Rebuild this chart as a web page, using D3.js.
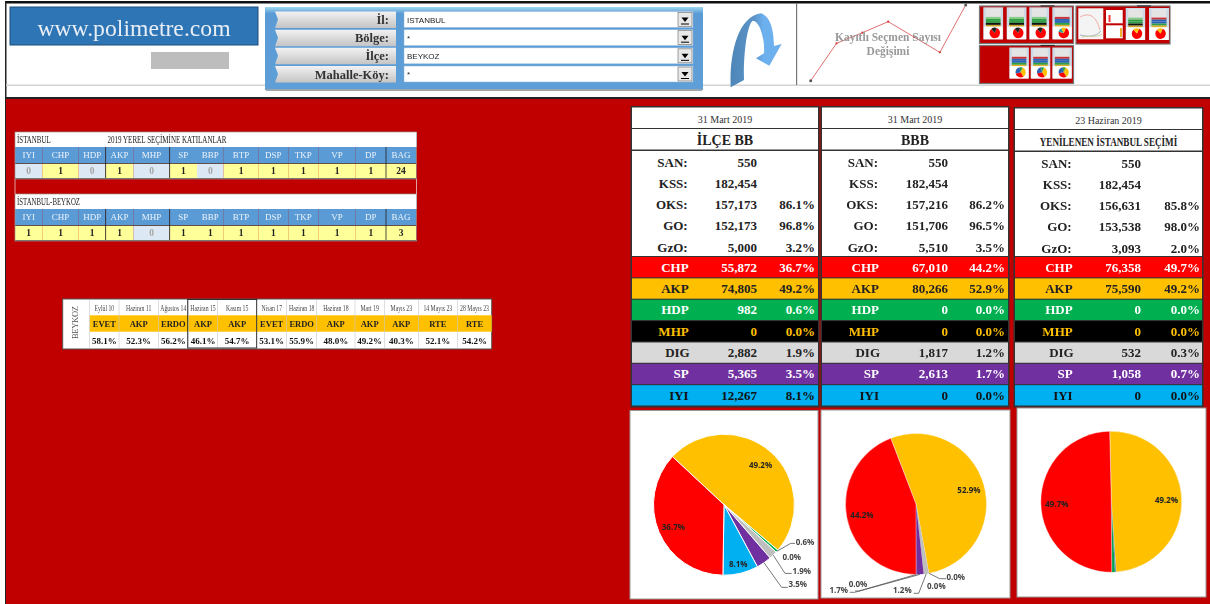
<!DOCTYPE html>
<html>
<head>
<meta charset="utf-8">
<script src="https://cdnjs.cloudflare.com/ajax/libs/d3/7.8.5/d3.min.js"></script>
<style>
html,body{margin:0;padding:0;background:#fff;overflow:hidden}
svg{display:block;filter:blur(0.45px)}
text{font-family:"Liberation Serif",serif}
</style>
</head>
<body>
<svg id="chart" width="1210" height="604"></svg>
<script>
// selector panel
const selectLabels=['İl:','Bölge:','İlçe:','Mahalle-Köy:'];
const selectValues=['ISTANBUL','*','BEYKOZ','*'];

// registered voters mini line (values estimated, no unit shown)
const trendValues=[15,127,159,192,146,100,242];

// who took part in the 2019 local election
const entryParties=['IYI','CHP','HDP','AKP','MHP','SP','BBP','BTP','DSP','TKP','VP','DP','BAG'];
const entryCity=[0,1,0,1,0,1,0,1,1,1,1,1,24];
const entryDistrict=[1,1,1,1,0,1,1,1,1,1,1,1,3];

// past results of the district
const historyDates=['Eylül 10','Haziran 11','Ağustos 14','Haziran 15','Kasım 15','Nisan 17','Haziran 18','Haziran 18','Mart 19','Mayıs 23','14 Mayıs 23','28 Mayıs 23'];
const historyWinners=['EVET','AKP','ERDO','AKP','AKP','EVET','ERDO','AKP','AKP','AKP','RTE','RTE'];
const historyShares=[58.1,52.3,56.2,46.1,54.7,53.1,55.9,48.0,49.2,40.3,52.1,54.2];

// the three result panels
const panelDates=['31 Mart 2019','31 Mart 2019','23 Haziran 2019'];
const panelTitles=['İLÇE BB','BBB','YENİLENEN İSTANBUL SEÇİMİ'];
const infoLabels=['SAN:','KSS:','OKS:','GO:','GzO:'];
const infoCounts=[[550,182454,157173,152173,5000],[550,182454,157216,151706,5510],[550,182454,156631,153538,3093]];
const infoPcts=[[null,null,86.1,96.8,3.2],[null,null,86.2,96.5,3.5],[null,null,85.8,98.0,2.0]];
const parties=['CHP','AKP','HDP','MHP','DIG','SP','IYI'];
const partyVotes=[[55872,74805,982,0,2882,5365,12267],[67010,80266,0,0,1817,2613,0],[76358,75590,0,0,532,1058,0]];
const partyShares=[[36.7,49.2,0.6,0,1.9,3.5,8.1],[44.2,52.9,0,0,1.2,1.7,0],[49.7,49.2,0,0,0.3,0.7,0]];
const pieOrder=['AKP','HDP','MHP','DIG','SP','IYI','CHP'];

// thumbnails, slices as rough shares
const thumbRed=[82,18];
const thumbRedB=[72,14,14];
const thumbMixed=[35,30,25,10];

const fill={CHP:'#ff0000',AKP:'#ffc000',HDP:'#00b050',MHP:'#000',DIG:'#d9d9d9',SP:'#7030a0',IYI:'#00b0f0'};
const ink={CHP:'#fff',AKP:'#222',HDP:'#fff',MHP:'#ffc000',DIG:'#222',SP:'#fff',IYI:'#111'};
const sliceFill=[
	{...fill,DIG:'#bfbfbf'},
	{...fill,DIG:'#bfbfbf'},
	{...fill,DIG:'#7c98a6',SP:'#00a050'}
];

const svg=d3.select('#chart');
const fmt=d3.format(',');
const pct=d=>d3.format('.1f')(d)+'%';

// ---- page frame
svg.append('rect').attr('x',5).attr('y',1).attr('width',1205).attr('height',2.5).attr('fill','#111');
svg.append('rect').attr('x',5).attr('y',1).attr('width',1.5).attr('height',603).attr('fill','#222');
svg.append('rect').attr('x',6).attr('y',84.5).attr('width',1204).attr('height',1.5).attr('fill','#d4d4d4');
svg.append('rect').attr('x',6).attr('y',97).attr('width',1204).attr('height',2).attr('fill','#222');
svg.append('rect').attr('x',6).attr('y',99).attr('width',1204).attr('height',505).attr('fill','#c00000');
svg.append('rect').attr('x',796).attr('y',3).attr('width',1.2).attr('height',82).attr('fill','#777');

// ---- logo
svg.append('rect').attr('x',10).attr('y',7).attr('width',248).attr('height',38).attr('fill','#2e75b6').attr('stroke','#1f4e79');
svg.append('text').attr('x',134).attr('y',35.5).attr('text-anchor','middle').attr('fill','#e8eef5').style('font-size','23.7px').text('www.polimetre.com');
svg.append('rect').attr('x',151).attr('y',52).attr('width',78).attr('height',17).attr('fill','#bdbdbd');

// ---- selector
const defs=svg.append('defs');
const pg=defs.append('linearGradient').attr('id','panelGrad').attr('x1',0).attr('y1',0).attr('x2',0).attr('y2',1);
pg.append('stop').attr('offset','0').attr('stop-color','#9fd8f0');
pg.append('stop').attr('offset','0.08').attr('stop-color','#5b9bd5');
pg.append('stop').attr('offset','1').attr('stop-color','#5f9fd8');
const bg=defs.append('linearGradient').attr('id','btnGrad').attr('x1',0).attr('y1',0).attr('x2',0).attr('y2',1);
bg.append('stop').attr('offset','0').attr('stop-color','#f2f2f2');
bg.append('stop').attr('offset','1').attr('stop-color','#c4c4c4');
const ag=defs.append('linearGradient').attr('id','arrowGrad').attr('x1',0).attr('y1',0).attr('x2',1).attr('y2',0);
ag.append('stop').attr('offset','0').attr('stop-color','#4f86b8');
ag.append('stop').attr('offset','0.45').attr('stop-color','#5b93c8');
ag.append('stop').attr('offset','0.65').attr('stop-color','#6db0ee');
ag.append('stop').attr('offset','1').attr('stop-color','#6db0ee');

svg.append('rect').attr('x',265).attr('y',7).attr('width',438).attr('height',83).attr('fill','url(#panelGrad)');
svg.append('rect').attr('x',266).attr('y',89).attr('width',436).attr('height',2).attr('fill','#9aa5ae');
const selY=d3.scaleLinear().domain([0,3]).range([11.5,66]);
selectLabels.forEach((d,i)=>{
	const g=svg.append('g').attr('transform','translate(0,'+selY(i)+')');
	g.append('path').attr('d','M275,0H396V16.5H275L278,8Z').attr('fill','url(#btnGrad)');
	g.append('text').attr('x',389).attr('y',12.5).attr('text-anchor','end').attr('fill','#333').style('font-size','12.5px').style('font-weight','bold').text(d);
	g.append('rect').attr('x',404).attr('y',0).attr('width',289).attr('height',16).attr('fill','#fff').attr('stroke','#8fb4d8').attr('stroke-width',0.5);
	g.append('rect').attr('x',678).attr('y',1).attr('width',14).attr('height',14).attr('fill','#e8e8e8').attr('stroke','#666').attr('stroke-width',0.6);
	g.append('path').attr('d','M681.5,6H688.5L685,10.5Z').attr('fill','#000');
	g.append('rect').attr('x',681).attr('y',12).attr('width',8).attr('height',1).attr('fill','#000');
	g.append('text').attr('x',407).attr('y',11).attr('fill','#222').style('font-family','"Liberation Sans",sans-serif').style('font-size','8px').text(selectValues[i]);
});

// ---- curved arrow
svg.append('path').attr('transform','translate(720,0) scale(0.3333)')
	.attr('d','M32,262C28,170 50,52 122,40C150,46 162,90 162,138L185,132L148,197L108,175L132,160C135,112 118,62 98,62C80,76 70,170 72,240Z')
	.attr('fill','url(#arrowGrad)');

// ---- registered voters mini line
const trendX=d3.scaleLinear().domain([0,trendValues.length-1]).range([810.7,965.7]);
const trendY=d3.scaleLinear().domain([0,257]).range([85.7,0]);
svg.append('path').datum(trendValues)
	.attr('d',d3.line().x((d,i)=>trendX(i)).y(d=>trendY(d)))
	.attr('fill','none').attr('stroke','#e07070').attr('stroke-width',1);
svg.selectAll('circle.trend').data(trendValues).enter().append('circle').attr('class','trend')
	.attr('cx',(d,i)=>trendX(i)).attr('cy',d=>trendY(d)).attr('r',(d,i)=>(i==0||i==6)?1.5:1.1)
	.attr('fill',(d,i)=>(i==0||i==6)?'#555':'#d33');
svg.append('text').attr('x',888).attr('y',41).attr('text-anchor','middle').attr('fill','#999').style('font-size','11.5px').style('font-weight','bold').text('Kayıtlı Seçmen Sayısı');
svg.append('text').attr('x',888).attr('y',55).attr('text-anchor','middle').attr('fill','#999').style('font-size','11.5px').style('font-weight','bold').text('Değişimi');

// ---- thumbnails
function thumbCard(x,y,w,h,stripes,shares,cols){
	const g=svg.append('g').attr('transform','translate('+x+','+y+')');
	g.append('rect').attr('width',w).attr('height',h).attr('fill','#ccd9e6');
	g.append('rect').attr('x',2.5).attr('y',1).attr('width',w-5).attr('height',h*0.57).attr('fill','#e4e4e4');
	stripes.forEach((c,i)=>{
		g.append('rect').attr('x',2.5).attr('y',h*0.3+i*2).attr('width',w-5).attr('height',2).attr('fill',c);
	});
	g.append('rect').attr('x',0.5).attr('y',h*0.6).attr('width',w-1).attr('height',h*0.4).attr('fill','#fff');
	const p=d3.pie().sort(null).startAngle(0.4).endAngle(0.4+2*Math.PI)(shares);
	const a=d3.arc().innerRadius(0).outerRadius(h*0.165);
	g.selectAll('path').data(p).enter().append('path')
		.attr('transform','translate('+(w*0.58)+','+(h*0.8)+')')
		.attr('d',a).attr('fill',(d,i)=>cols[i%cols.length]);
}
function thumbGroup(x,y,w,h){
	svg.append('rect').attr('x',x).attr('y',y).attr('width',w).attr('height',h).attr('fill','#c00000').attr('stroke','#777').attr('stroke-width',1.2);
	svg.append('rect').attr('x',x+61).attr('y',y-0.6).attr('width',14).attr('height',1).attr('fill','#222');
}
const stripesA=['#8c8','#2f9e44','#2f9e44','#111','#c9a227','#c9a227'];
const stripesB=['#c33','#2b62b5','#2b62b5','#2f9e44','#e0b030','#c9a227'];
const redPie=['#ff0000','#222'];
const redTeal=['#ff0000','#2f9e9e','#ffc000'];
const mixPie=['#ffc000','#ff0000','#2b62b5','#2f9e44'];
thumbGroup(979.5,6,94,37.5);
[983.3,1006.7,1029.3,1052.3].forEach((x,i)=>thumbCard(x,7.3,19.8,32,i==3?stripesB:stripesA,i==3?thumbRedB:thumbRed,i==3?redTeal:redPie));
thumbGroup(1076,6,94,38);
svg.append('rect').attr('x',1078.3).attr('y',8.3).attr('width',25).attr('height',31).attr('fill','#f4f4f4');
svg.append('rect').attr('x',1106).attr('y',10).attr('width',16.7).attr('height',13.3).attr('fill','#fff');
svg.append('rect').attr('x',1108.5).attr('y',15).attr('width',2).attr('height',7).attr('fill','#f33');
svg.append('rect').attr('x',1106).attr('y',25.3).attr('width',16.7).attr('height',13).attr('fill','#fff');
svg.append('rect').attr('x',1120).attr('y',28).attr('width',2).attr('height',9).attr('fill','#f0b030');
svg.append('path').attr('d','M1080,17C1090,12 1096,16 1100,30').attr('fill','none').attr('stroke','#f0a0a0').attr('stroke-width',0.9);
svg.append('path').attr('d','M1080,35C1088,37 1095,37 1101,31').attr('fill','none').attr('stroke','#9ab').attr('stroke-width',0.9);
svg.append('path').attr('d','M1082,37C1090,35 1096,38 1102,34').attr('fill','none').attr('stroke','#cc9').attr('stroke-width',0.9);
thumbCard(1125.7,8,19.5,32,stripesA,thumbRed,['#ff0000','#ffc000']);
thumbCard(1149,8,20,32,stripesB,thumbRed,['#ff0000','#ffc000']);
thumbGroup(979.5,45.5,94,38);
[1009.3,1030.7,1052.3].forEach(x=>thumbCard(x,47.5,19.6,31,stripesB,thumbMixed,mixPie));

// ---- election entry tables
const entryEdges=[15,42.3,78.7,105.7,133.3,169.7,197,223.7,258.3,288.3,318.3,355.7,386,416];
const entryDark=[3,5,12];
function entryTable(top,titleA,titleB,values){
	svg.append('rect').attr('x',15).attr('y',top).attr('width',402).attr('height',15).attr('fill','#fff');
	svg.append('text').attr('x',17).attr('y',top+11).attr('fill','#222').attr('textLength',titleA.length*4.2).attr('lengthAdjust','spacingAndGlyphs').style('font-size','10.5px').text(titleA);
	if(titleB) svg.append('text').attr('x',107.5).attr('y',top+11).attr('fill','#222').attr('textLength',119).attr('lengthAdjust','spacingAndGlyphs').style('font-size','10.5px').text(titleB);
	entryParties.forEach((d,i)=>{
		const x=entryEdges[i],w=entryEdges[i+1]-x;
		svg.append('rect').attr('x',x).attr('y',top+15).attr('width',w).attr('height',16).attr('fill','#5b9bd5');
		svg.append('text').attr('x',x+w/2).attr('y',top+26).attr('text-anchor','middle').attr('fill','#edf3fa').style('font-size','9px').text(d);
		svg.append('rect').attr('x',x).attr('y',top+31.5).attr('width',w).attr('height',14.5).attr('fill',values[i]==0?'#dce8f4':'#ffff99');
		svg.append('text').attr('x',x+w/2).attr('y',top+42).attr('text-anchor','middle').attr('fill',values[i]==0?'#a5a5a5':'#222').style('font-size','9.5px').style('font-weight','bold').text(values[i]);
	});
	svg.append('rect').attr('x',15).attr('y',top+46).attr('width',402).attr('height',1).attr('fill','#666');
	svg.append('rect').attr('x',15).attr('y',top+31).attr('width',402).attr('height',0.8).attr('fill','#444');
	entryDark.forEach(i=>{
		svg.append('rect').attr('x',entryEdges[i]-0.4).attr('y',top+15).attr('width',0.8).attr('height',31).attr('fill','#222');
	});
	svg.append('rect').attr('x',15).attr('y',top).attr('width',401.5).attr('height',47).attr('fill','none').attr('stroke','#999').attr('stroke-width',0.7);
}
entryTable(132,'İSTANBUL','2019 YEREL SEÇİMİNE KATILANLAR',entryCity);
entryTable(194,'İSTANBUL-BEYKOZ',null,entryDistrict);
// pale edge of the gap between both tables
svg.append('rect').attr('x',14.5).attr('y',179).attr('width',1).attr('height',15).attr('fill','#e0a0a0');
svg.append('rect').attr('x',416).attr('y',179).attr('width',1).attr('height',15).attr('fill','#e0a0a0');

// ---- history strip
const histEdges=[89.7,119,158.3,188.3,217.7,256.7,286.7,316.7,355,384.3,418.3,457.3,491.7];
svg.append('rect').attr('x',62.7).attr('y',299).attr('width',429).attr('height',50).attr('fill','#fff').attr('stroke','#555').attr('stroke-width',1);
svg.append('text').attr('transform','translate(78,322.5) rotate(-90)').attr('text-anchor','middle').attr('fill','#555').attr('textLength',33).attr('lengthAdjust','spacing').style('font-size','8.5px').text('BEYKOZ');
svg.append('rect').attr('x',89.7).attr('y',315.3).attr('width',402).attr('height',16.4).attr('fill','#ffc000');
historyDates.forEach((d,i)=>{
	const x=histEdges[i],w=histEdges[i+1]-x,cx=x+w/2;
	svg.append('text').attr('transform','translate('+cx+',311) scale(0.72,1)').attr('text-anchor','middle').attr('fill','#444').style('font-size','8px').text(d);
	svg.append('text').attr('x',cx).attr('y',327).attr('text-anchor','middle').attr('fill','#222').style('font-size','8.5px').style('font-weight','bold').text(historyWinners[i]);
	svg.append('text').attr('x',cx).attr('y',344).attr('text-anchor','middle').attr('fill','#111').style('font-size','9px').style('font-weight','bold').text(pct(historyShares[i]));
	svg.append('rect').attr('x',x-0.3).attr('y',299.5).attr('width',0.6).attr('height',49).attr('fill','#c8c8c8');
});
svg.append('rect').attr('x',187.7).attr('y',299.5).attr('width',69).attr('height',48.5).attr('fill','none').attr('stroke','#222').attr('stroke-width',0.9);

// ---- result panels
const panelX=[632,822,1015];
const panelW=[186,186,187];
const labelRight=[55.7,56,56.7];
const valueRight=[125,126,126];
const pctRight=[183,183,185];
const panelTop=[107.5,107.5,108.5];
const partyY=d3.scaleBand().domain(parties).range([257,405.5]).paddingInner(0.05);
const infoY=d3.scaleLinear().domain([0,4]).range([162,247]);

panelX.forEach((px,p)=>{
	const g=svg.append('g').attr('transform','translate('+px+',0)');
	const w=panelW[p],top=panelTop[p],bump=p==2?1:0;
	const bold=(s,x,y,col)=>g.append('text').attr('x',x).attr('y',y).attr('text-anchor','end').attr('fill',col).style('font-size','13px').style('font-weight','bold').text(s);
	g.append('rect').attr('x',-1.5).attr('y',top-1.5).attr('width',w+3).attr('height',406.5-top+2.5).attr('fill','#333');
	g.append('rect').attr('width',w).attr('y',top).attr('height',20.5).attr('fill','#fff');
	g.append('rect').attr('width',w).attr('y',top+21.5).attr('height',20.5).attr('fill','#fff');
	g.append('rect').attr('width',w).attr('y',top+43.5).attr('height',256-top-43.5).attr('fill','#fff');
	g.append('text').attr('x',w/2).attr('y',top+15).attr('text-anchor','middle').attr('fill','#333').style('font-size','10px').text(panelDates[p]);
	// the long title is squeezed to fit its row
	g.append('text').attr('transform','translate('+(w/2)+','+(top+37)+') scale('+(p==2?0.76:1)+',1)').attr('text-anchor','middle').attr('fill','#222')
		.style('font-size',p==2?'12px':'14px').style('font-weight','bold').text(panelTitles[p]);
	infoLabels.forEach((d,i)=>{
		const y=infoY(i)+4.5+bump;
		bold(d,labelRight[p],y,'#222');
		bold(fmt(infoCounts[p][i]),valueRight[p],y,'#222');
		if(infoPcts[p][i]!==null) bold(pct(infoPcts[p][i]),pctRight[p],y,'#222');
	});
	parties.forEach((d,i)=>{
		g.append('rect').attr('x',0).attr('y',partyY(d)).attr('width',w).attr('height',partyY.bandwidth()).attr('fill',fill[d]);
		const y=partyY(d)+partyY.bandwidth()/2+4.5;
		bold(d,d=='DIG'?labelRight[p]+2:labelRight[p]+1,y,ink[d]);
		bold(fmt(partyVotes[p][i]),valueRight[p],y,ink[d]);
		bold(pct(partyShares[p][i]),pctRight[p],y,ink[d]);
	});
});

// ---- pies
const pieCards=[[630,410.5,188,188.5],[821,410,189,188],[1017,408,189,189]];
const pieCenter=[[724,504.7],[916,504],[1111.3,501.7]];
const pieStart=[-47,-21,-1.3];
const pieRadius=70.5;
// small label spots around the pie: text x,y then leader elbow x,y and end x
const smallLabels=[
	{HDP:[81,37,66.7,38.7,71],MHP:[67.7,52.7],DIG:[77.7,66.7,61,68.7,67.7],SP:[73.7,79.7,57.7,82.7,63.7]},
	{HDP:[39.7,72.7,23.7,74.7,30.3],MHP:[20.3,82],DIG:[-13.7,86,2.7,89.3,-2.3],SP:[-77.3,86,-61.3,88.3,-66.3],IYI:[-58,80,-57,87,-61]},
	{}
];
const arc=d3.arc().innerRadius(0).outerRadius(pieRadius);

pieCards.forEach((c,p)=>{
	svg.append('rect').attr('x',c[0]).attr('y',c[1]).attr('width',c[2]).attr('height',c[3]).attr('fill','#fff').attr('stroke','#999').attr('stroke-width',1);
	const values=pieOrder.map(n=>({name:n,share:partyShares[p][parties.indexOf(n)]}));
	const start=pieStart[p]*Math.PI/180;
	const slices=d3.pie().sort(null).value(d=>d.share).startAngle(start).endAngle(start+2*Math.PI)(values);
	const g=svg.append('g').attr('transform','translate('+pieCenter[p][0]+','+pieCenter[p][1]+')');
	g.selectAll('path.slice').data(slices).enter().append('path').attr('class','slice')
		.attr('d',arc).attr('fill',d=>sliceFill[p][d.data.name])
		.attr('stroke','#fff').attr('stroke-width',d=>(p==0&&d.data.share>0)?1:(d.data.share>2?0.4:0));
	slices.forEach(s=>{
		const spot=smallLabels[p][s.data.name];
		const style=t=>t.attr('text-anchor','middle').style('font-family','"Open Sans",sans-serif').style('font-weight','bold').style('font-size','8px').text(pct(s.data.share));
		if(spot){
			if(spot.length>2){
				const mid=(s.startAngle+s.endAngle)/2;
				const sx=Math.sin(mid)*pieRadius,sy=-Math.cos(mid)*pieRadius;
				g.append('path').attr('d',d3.line()([[sx,sy],[spot[2],spot[3]],[spot[4],spot[3]]]))
					.attr('fill','none').attr('stroke','#555').attr('stroke-width',0.8);
			}
			style(g.append('text').attr('x',spot[0]).attr('y',spot[1]+3).attr('fill','#444'));
		}else if(s.data.share>5){
			const r=s.data.share<10?60:55;
			const pos=d3.arc().innerRadius(r).outerRadius(r).centroid(s);
			style(g.append('text').attr('x',pos[0]).attr('y',pos[1]+4).attr('fill','#222'));
		}
	});
});
</script>
</body>
</html>
